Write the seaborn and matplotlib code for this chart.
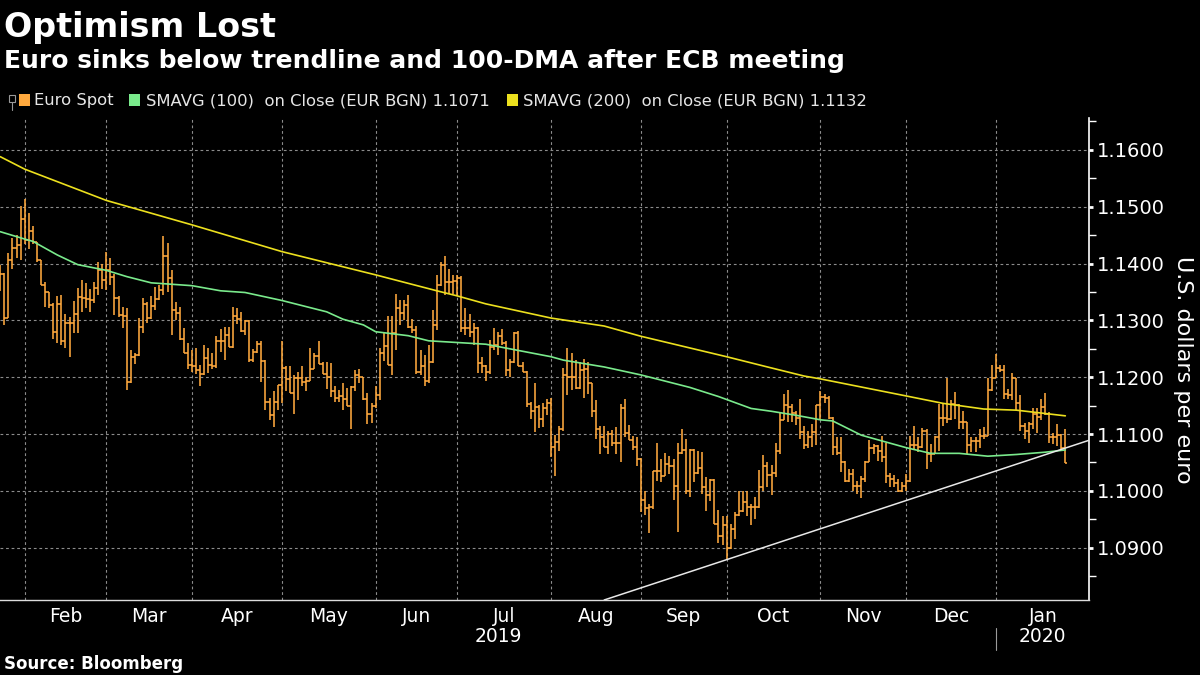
import numpy as np
import pandas as pd
import matplotlib
matplotlib.use("Agg")
import matplotlib.pyplot as plt
import matplotlib.transforms as mtrans
from matplotlib.patches import Rectangle
from matplotlib.lines import Line2D
import seaborn as sns

# ---- data (EUR/USD daily bars) ----
first_day = "2019-01-24"

opens = [
    1.1365, 1.1381, 1.1305, 1.1406, 1.1428, 1.1433, 1.1479, 1.1441, 1.1457, 1.1437,
    1.1406, 1.1362, 1.1349, 1.1327, 1.1280, 1.1328, 1.1263, 1.1295, 1.1296, 1.1312,
    1.1341, 1.1339, 1.1337, 1.1336, 1.1357, 1.1388, 1.1371, 1.1388, 1.1377, 1.1340,
    1.1309, 1.1307, 1.1192, 1.1236, 1.1239, 1.1288, 1.1329, 1.1304, 1.1325, 1.1337,
    1.1353, 1.1413, 1.1374, 1.1318, 1.1313, 1.1267, 1.1243, 1.1222, 1.1220, 1.1213,
    1.1206, 1.1233, 1.1222, 1.1219, 1.1264, 1.1264, 1.1274, 1.1253, 1.1308, 1.1302,
    1.1281, 1.1298, 1.1230, 1.1245, 1.1258, 1.1229, 1.1157, 1.1134, 1.1156, 1.1187,
    1.1216, 1.1196, 1.1172, 1.1199, 1.1198, 1.1192, 1.1194, 1.1215, 1.1237, 1.1223,
    1.1205, 1.1201, 1.1176, 1.1163, 1.1167, 1.1161, 1.1150, 1.1182, 1.1204, 1.1201,
    1.1162, 1.1135, 1.1150, 1.1169, 1.1242, 1.1254, 1.1222, 1.1277, 1.1321, 1.1313,
    1.1327, 1.1288, 1.1283, 1.1210, 1.1220, 1.1194, 1.1226, 1.1292, 1.1362, 1.1397,
    1.1368, 1.1368, 1.1370, 1.1375, 1.1286, 1.1286, 1.1280, 1.1287, 1.1225, 1.1220,
    1.1210, 1.1253, 1.1257, 1.1272, 1.1260, 1.1213, 1.1226, 1.1278, 1.1220, 1.1210,
    1.1153, 1.1141, 1.1147, 1.1127, 1.1145, 1.1155, 1.1077, 1.1086, 1.1109, 1.1204,
    1.1200, 1.1200, 1.1181, 1.1213, 1.1214, 1.1189, 1.1140, 1.1109, 1.1095, 1.1078,
    1.1100, 1.1084, 1.1084, 1.1146, 1.1101, 1.1089, 1.1077, 1.1056, 1.0984, 1.0970,
    1.0972, 1.1035, 1.1035, 1.1027, 1.1047, 1.1043, 1.1009, 1.1066, 1.1072, 1.1000,
    1.1072, 1.1031, 1.1041, 1.1007, 1.0993, 1.1019, 1.0942, 1.0921, 1.0940, 1.0899,
    1.0933, 1.0958, 1.0964, 1.0980, 1.0971, 1.0971, 1.0971, 1.1006, 1.1044, 1.1028,
    1.1031, 1.1071, 1.1125, 1.1151, 1.1147, 1.1137, 1.1129, 1.1104, 1.1080, 1.1094,
    1.1103, 1.1151, 1.1165, 1.1164, 1.1128, 1.1077, 1.1066, 1.1051, 1.1018, 1.1030,
    1.1009, 1.1009, 1.1021, 1.1051, 1.1075, 1.1079, 1.1071, 1.1059, 1.1027, 1.1021,
    1.1014, 1.0999, 1.1009, 1.1018, 1.1080, 1.1080, 1.1077, 1.1106, 1.1065, 1.1065,
    1.1094, 1.1129, 1.1129, 1.1126, 1.1153, 1.1151, 1.1121, 1.1121, 1.1080, 1.1088,
    1.1088, 1.1097, 1.1097, 1.1177, 1.1199, 1.1216, 1.1213, 1.1170, 1.1168, 1.1198,
    1.1154, 1.1115, 1.1106, 1.1118, 1.1136, 1.1130, 1.1148, 1.1136, 1.1094, 1.1094,
    1.1098, 1.1076,
]
highs = [
    1.1397, 1.1383, 1.1418, 1.1444, 1.1450, 1.1501, 1.1514, 1.1488, 1.1466, 1.1438,
    1.1406, 1.1368, 1.1350, 1.1330, 1.1342, 1.1344, 1.1312, 1.1306, 1.1334, 1.1357,
    1.1371, 1.1366, 1.1356, 1.1368, 1.1403, 1.1400, 1.1420, 1.1410, 1.1382, 1.1342,
    1.1324, 1.1321, 1.1248, 1.1242, 1.1305, 1.1339, 1.1333, 1.1343, 1.1358, 1.1362,
    1.1448, 1.1436, 1.1389, 1.1333, 1.1324, 1.1286, 1.1261, 1.1248, 1.1251, 1.1222,
    1.1256, 1.1251, 1.1242, 1.1273, 1.1284, 1.1289, 1.1288, 1.1324, 1.1321, 1.1315,
    1.1300, 1.1300, 1.1249, 1.1263, 1.1263, 1.1230, 1.1163, 1.1175, 1.1187, 1.1264,
    1.1219, 1.1220, 1.1204, 1.1210, 1.1219, 1.1201, 1.1251, 1.1242, 1.1263, 1.1227,
    1.1226, 1.1225, 1.1184, 1.1178, 1.1189, 1.1181, 1.1184, 1.1213, 1.1214, 1.1201,
    1.1172, 1.1155, 1.1184, 1.1251, 1.1277, 1.1308, 1.1308, 1.1347, 1.1336, 1.1336,
    1.1344, 1.1302, 1.1290, 1.1248, 1.1239, 1.1257, 1.1318, 1.1380, 1.1403, 1.1413,
    1.1391, 1.1380, 1.1380, 1.1378, 1.1321, 1.1312, 1.1295, 1.1289, 1.1236, 1.1222,
    1.1266, 1.1286, 1.1279, 1.1285, 1.1263, 1.1232, 1.1280, 1.1282, 1.1226, 1.1211,
    1.1157, 1.1189, 1.1151, 1.1154, 1.1161, 1.1163, 1.1098, 1.1115, 1.1216, 1.1251,
    1.1242, 1.1230, 1.1226, 1.1232, 1.1227, 1.1190, 1.1160, 1.1115, 1.1115, 1.1106,
    1.1107, 1.1112, 1.1152, 1.1162, 1.1116, 1.1097, 1.1095, 1.1057, 1.1000, 1.0977,
    1.1035, 1.1084, 1.1056, 1.1066, 1.1062, 1.1056, 1.1085, 1.1109, 1.1091, 1.1074,
    1.1074, 1.1071, 1.1068, 1.1025, 1.1021, 1.1021, 1.0966, 1.0956, 1.0956, 1.0942,
    1.0962, 1.0999, 1.0999, 1.1000, 1.0977, 1.0990, 1.1036, 1.1063, 1.1051, 1.1046,
    1.1085, 1.1138, 1.1170, 1.1178, 1.1153, 1.1141, 1.1162, 1.1115, 1.1106, 1.1118,
    1.1151, 1.1176, 1.1170, 1.1167, 1.1130, 1.1094, 1.1094, 1.1053, 1.1038, 1.1038,
    1.1018, 1.1027, 1.1053, 1.1090, 1.1082, 1.1080, 1.1096, 1.1085, 1.1031, 1.1028,
    1.1021, 1.1016, 1.1030, 1.1097, 1.1115, 1.1094, 1.1110, 1.1109, 1.1082, 1.1097,
    1.1153, 1.1153, 1.1198, 1.1159, 1.1174, 1.1153, 1.1141, 1.1122, 1.1094, 1.1094,
    1.1109, 1.1112, 1.1198, 1.1222, 1.1241, 1.1222, 1.1222, 1.1180, 1.1207, 1.1199,
    1.1168, 1.1120, 1.1122, 1.1146, 1.1145, 1.1162, 1.1173, 1.1139, 1.1102, 1.1118,
    1.1100, 1.1109,
]
lows = [
    1.1351, 1.1292, 1.1304, 1.1390, 1.1410, 1.1406, 1.1435, 1.1426, 1.1435, 1.1402,
    1.1362, 1.1324, 1.1322, 1.1267, 1.1260, 1.1257, 1.1251, 1.1235, 1.1277, 1.1277,
    1.1315, 1.1321, 1.1315, 1.1330, 1.1344, 1.1356, 1.1353, 1.1362, 1.1309, 1.1306,
    1.1286, 1.1178, 1.1190, 1.1223, 1.1238, 1.1277, 1.1295, 1.1302, 1.1318, 1.1336,
    1.1344, 1.1350, 1.1274, 1.1301, 1.1265, 1.1242, 1.1214, 1.1210, 1.1206, 1.1184,
    1.1204, 1.1207, 1.1214, 1.1216, 1.1245, 1.1230, 1.1253, 1.1252, 1.1294, 1.1280,
    1.1275, 1.1227, 1.1227, 1.1242, 1.1192, 1.1143, 1.1125, 1.1112, 1.1143, 1.1154,
    1.1175, 1.1172, 1.1135, 1.1160, 1.1185, 1.1175, 1.1193, 1.1214, 1.1223, 1.1205,
    1.1179, 1.1166, 1.1157, 1.1157, 1.1143, 1.1150, 1.1109, 1.1175, 1.1189, 1.1160,
    1.1118, 1.1120, 1.1145, 1.1160, 1.1228, 1.1222, 1.1204, 1.1248, 1.1292, 1.1301,
    1.1286, 1.1277, 1.1206, 1.1204, 1.1184, 1.1190, 1.1225, 1.1283, 1.1360, 1.1344,
    1.1347, 1.1347, 1.1342, 1.1280, 1.1274, 1.1271, 1.1257, 1.1208, 1.1207, 1.1194,
    1.1206, 1.1248, 1.1239, 1.1257, 1.1202, 1.1200, 1.1225, 1.1220, 1.1210, 1.1147,
    1.1127, 1.1104, 1.1111, 1.1112, 1.1133, 1.1059, 1.1027, 1.1071, 1.1106, 1.1168,
    1.1177, 1.1180, 1.1180, 1.1163, 1.1170, 1.1130, 1.1092, 1.1065, 1.1077, 1.1065,
    1.1079, 1.1064, 1.1050, 1.1095, 1.1089, 1.1072, 1.1044, 1.0962, 1.0958, 1.0925,
    1.0968, 1.1018, 1.1015, 1.1026, 1.1030, 1.0984, 1.0927, 1.1065, 1.0994, 1.0989,
    1.1015, 1.1030, 1.0994, 1.0965, 1.0983, 1.0942, 1.0909, 1.0905, 1.0880, 1.0898,
    1.0915, 1.0956, 1.0963, 1.0956, 1.0940, 1.0951, 1.0969, 1.1000, 1.1006, 1.0992,
    1.1024, 1.1065, 1.1124, 1.1121, 1.1121, 1.1116, 1.1091, 1.1074, 1.1075, 1.1077,
    1.1080, 1.1126, 1.1155, 1.1126, 1.1063, 1.1063, 1.1033, 1.1016, 1.1016, 1.1000,
    1.0994, 1.0987, 1.1015, 1.1050, 1.1065, 1.1053, 1.1051, 1.1014, 1.1006, 1.1006,
    1.0998, 1.0998, 1.1000, 1.1015, 1.1072, 1.1068, 1.1076, 1.1038, 1.1051, 1.1064,
    1.1071, 1.1115, 1.1119, 1.1125, 1.1126, 1.1109, 1.1109, 1.1065, 1.1068, 1.1068,
    1.1076, 1.1091, 1.1096, 1.1176, 1.1198, 1.1210, 1.1162, 1.1162, 1.1160, 1.1142,
    1.1106, 1.1092, 1.1085, 1.1109, 1.1102, 1.1124, 1.1133, 1.1085, 1.1082, 1.1079,
    1.1073, 1.1049,
]
closes = [
    1.1381, 1.1305, 1.1406, 1.1428, 1.1433, 1.1479, 1.1441, 1.1457, 1.1437, 1.1406,
    1.1362, 1.1349, 1.1327, 1.1280, 1.1328, 1.1263, 1.1295, 1.1296, 1.1312, 1.1341,
    1.1339, 1.1337, 1.1336, 1.1357, 1.1388, 1.1371, 1.1388, 1.1377, 1.1340, 1.1309,
    1.1307, 1.1192, 1.1236, 1.1239, 1.1288, 1.1329, 1.1304, 1.1325, 1.1337, 1.1353,
    1.1413, 1.1374, 1.1318, 1.1313, 1.1267, 1.1243, 1.1222, 1.1220, 1.1213, 1.1206,
    1.1233, 1.1222, 1.1219, 1.1264, 1.1264, 1.1274, 1.1253, 1.1308, 1.1302, 1.1281,
    1.1298, 1.1230, 1.1245, 1.1258, 1.1229, 1.1157, 1.1134, 1.1156, 1.1187, 1.1216,
    1.1196, 1.1172, 1.1199, 1.1198, 1.1192, 1.1194, 1.1215, 1.1237, 1.1223, 1.1205,
    1.1201, 1.1176, 1.1163, 1.1167, 1.1161, 1.1150, 1.1182, 1.1204, 1.1201, 1.1162,
    1.1135, 1.1150, 1.1169, 1.1242, 1.1254, 1.1222, 1.1277, 1.1321, 1.1313, 1.1327,
    1.1288, 1.1283, 1.1210, 1.1220, 1.1194, 1.1226, 1.1292, 1.1362, 1.1397, 1.1368,
    1.1368, 1.1370, 1.1375, 1.1286, 1.1286, 1.1280, 1.1287, 1.1225, 1.1220, 1.1210,
    1.1253, 1.1257, 1.1272, 1.1260, 1.1213, 1.1226, 1.1278, 1.1220, 1.1210, 1.1153,
    1.1141, 1.1147, 1.1127, 1.1145, 1.1155, 1.1077, 1.1086, 1.1109, 1.1204, 1.1200,
    1.1200, 1.1181, 1.1213, 1.1214, 1.1189, 1.1140, 1.1109, 1.1095, 1.1078, 1.1100,
    1.1084, 1.1084, 1.1146, 1.1101, 1.1089, 1.1077, 1.1056, 1.0984, 1.0970, 1.0972,
    1.1035, 1.1035, 1.1027, 1.1047, 1.1043, 1.1009, 1.1066, 1.1072, 1.1000, 1.1072,
    1.1031, 1.1041, 1.1007, 1.0993, 1.1019, 1.0942, 1.0921, 1.0940, 1.0899, 1.0933,
    1.0958, 1.0964, 1.0980, 1.0971, 1.0971, 1.0971, 1.1006, 1.1044, 1.1028, 1.1031,
    1.1071, 1.1125, 1.1151, 1.1147, 1.1137, 1.1129, 1.1104, 1.1080, 1.1094, 1.1103,
    1.1151, 1.1165, 1.1164, 1.1128, 1.1077, 1.1066, 1.1051, 1.1018, 1.1030, 1.1009,
    1.1009, 1.1021, 1.1051, 1.1075, 1.1079, 1.1071, 1.1059, 1.1027, 1.1021, 1.1014,
    1.0999, 1.1009, 1.1018, 1.1080, 1.1080, 1.1077, 1.1106, 1.1065, 1.1065, 1.1094,
    1.1129, 1.1129, 1.1126, 1.1153, 1.1151, 1.1121, 1.1121, 1.1080, 1.1088, 1.1088,
    1.1097, 1.1097, 1.1177, 1.1199, 1.1216, 1.1213, 1.1170, 1.1168, 1.1198, 1.1154,
    1.1115, 1.1106, 1.1118, 1.1136, 1.1130, 1.1148, 1.1136, 1.1094, 1.1094, 1.1098,
    1.1076, 1.1049,
]

# moving averages, read at sample points (bar number, value)
ma100_idx = [0, 6, 8, 14, 19, 26, 31, 37, 47, 54, 60, 69, 80, 84, 89, 92, 100, 105, 112,
             119, 135, 138, 148, 157, 169, 176, 184, 189, 195, 201, 204, 211, 222, 228,
             235, 242, 249, 256, 261]
ma100_val = [1.1456, 1.1443, 1.1439, 1.1415, 1.1398, 1.1388, 1.1377, 1.1366, 1.1361,
             1.1352, 1.1349, 1.1335, 1.1315, 1.1302, 1.1292, 1.1280, 1.1273, 1.1264,
             1.1261, 1.1258, 1.1236, 1.1230, 1.1218, 1.1204, 1.1182, 1.1166, 1.1145,
             1.1140, 1.1133, 1.1125, 1.1123, 1.1098, 1.1076, 1.1066, 1.1066, 1.1061,
             1.1064, 1.1068, 1.1072]
ma200_idx = [0, 6, 26, 47, 69, 92, 107, 112, 119, 135, 148, 157, 178, 188, 197, 201,
             222, 231, 241, 249, 261]
ma200_val = [1.1588, 1.1566, 1.1511, 1.1468, 1.1421, 1.1380, 1.1352, 1.1343, 1.1329,
             1.1304, 1.1290, 1.1272, 1.1236, 1.1218, 1.1202, 1.1197, 1.1167, 1.1154,
             1.1144, 1.1142, 1.1132]

trend_idx = [148, 266.8]
trend_val = [1.0808, 1.1089]

y_ticks = [1.09, 1.10, 1.11, 1.12, 1.13, 1.14, 1.15, 1.16]

title = "Optimism Lost"
subtitle = "Euro sinks below trendline and 100-DMA after ECB meeting"
source = "Source: Bloomberg"

ORANGE = "#ffa93e"
GREEN = "#7aea8c"
YELLOW = "#ece01e"
GRID = "#8c8c8c"

# ---- setup ----
sns.set_theme(style="dark", rc={"axes.facecolor": "black", "figure.facecolor": "black"})
plt.rcParams["font.family"] = ["DejaVu Sans"]

W, H = 1200, 675
fig = plt.figure(figsize=(12, 6.75), dpi=100)
fig.patch.set_facecolor("black")


def fx(px):
    return px / W


def fy(py):
    return 1 - py / H


ax = fig.add_axes([0, fy(600), fx(1089), fy(118) - fy(600)])
ax.set_facecolor("black")

n = len(closes)
dates = pd.bdate_range(first_day, periods=n)
x = np.arange(n)

# month boundaries from the dates
month_pos = [i for i in range(1, n) if dates[i].month != dates[i - 1].month]
next_month = month_pos[-1] + len(pd.bdate_range(dates[month_pos[-1]],
                                                 dates[month_pos[-1]] + pd.offsets.MonthEnd(0)))
bounds = month_pos + [next_month]
label_pos = [(bounds[k] + bounds[k + 1]) / 2 for k in range(len(month_pos))]
label_txt = [dates[i].strftime("%b") for i in month_pos]

# ---- OHLC bars ----
ax.vlines(x, lows, highs, color=ORANGE, lw=1.15, zorder=3)
ax.hlines(opens, x - 0.5, x, color=ORANGE, lw=1.15, zorder=3)
ax.hlines(closes, x, x + 0.5, color=ORANGE, lw=1.15, zorder=3)

# ---- moving averages and trendline ----
sns.lineplot(x=ma200_idx, y=ma200_val, color=YELLOW, lw=1.2, ax=ax, zorder=4)
sns.lineplot(x=ma100_idx, y=ma100_val, color=GREEN, lw=1.2, ax=ax, zorder=4)
sns.lineplot(x=trend_idx, y=trend_val, color="#e8e8e8", lw=1.1, ax=ax, zorder=5)

ax.set_xlim(-0.05, 266.8)
ax.set_ylim(1.0808, 1.1656)

# ---- axes styling ----
ax.yaxis.tick_right()
ax.set_yticks(y_ticks)
ax.set_yticklabels([f"{v:.4f}" for v in y_ticks])
ax.set_yticks([v + 0.005 for v in [1.08] + y_ticks], minor=True)
ax.tick_params(axis="y", which="major", colors="white", labelcolor="white",
               labelsize=14, length=3, width=2, direction="out", pad=3, right=True, left=False)
ax.tick_params(axis="y", which="minor", colors="white", length=5, width=1,
               direction="out", right=True, left=False)

ax.set_xticks(month_pos)
ax.set_xticklabels([])
ax.set_xticks(label_pos, minor=True)
ax.set_xticklabels(label_txt, minor=True)
ax.tick_params(axis="x", which="major", length=0, bottom=True)
ax.tick_params(axis="x", which="minor", length=0, labelsize=13.5,
               labelcolor="white", pad=5)

ax.grid(True, which="major", color=GRID, lw=0.8, linestyle=(0, (2.5, 2.5)))
ax.grid(False, which="minor")

for side in ["left", "top"]:
    ax.spines[side].set_visible(False)
ax.spines["right"].set_color("white")
ax.spines["right"].set_linewidth(1.2)
ax.spines["bottom"].set_color("#dddddd")
ax.spines["bottom"].set_linewidth(1.0)

ax.set_xlabel("")
ax.set_ylabel("")
fig.text(fx(1183), fy(370), "U.S. dollars per euro", rotation=270, color="white",
         fontsize=16, ha="center", va="center")

# year labels
yr = mtrans.blended_transform_factory(ax.transData, fig.transFigure)
year_start = month_pos[-1]
ax.text(year_start / 2, fy(637), str(dates[0].year), transform=yr, color="white",
        fontsize=13.5, ha="center", va="center")
ax.text((year_start + 266.8) / 2, fy(637), str(dates[-1].year), transform=yr,
        color="white", fontsize=13.5, ha="center", va="center")
fig.add_artist(Line2D([year_start, year_start], [fy(628), fy(650)], transform=yr,
                      color="#9a9a9a", lw=0.8))

# ---- titles ----
fig.text(fx(4), fy(37), title, color="white", fontsize=24, fontweight="bold",
         ha="left", va="baseline")
fig.text(fx(4), fy(68), subtitle, color="white", fontsize=18, fontweight="bold",
         ha="left", va="baseline")
fig.text(fx(4), fy(664), source, color="white", fontsize=12, fontweight="bold",
         ha="left", va="center")

# ---- legend row ----
ly = fy(101)
fig.add_artist(Rectangle((fx(9), fy(102)), fx(6), fy(95) - fy(102), transform=fig.transFigure,
                         fill=False, edgecolor="#999999", lw=0.8))
fig.add_artist(Line2D([fx(12), fx(12)], [fy(102), fy(110)], transform=fig.transFigure,
                      color="#999999", lw=0.8))
legend_items = [
    (19, ORANGE, 34, "Euro Spot"),
    (129, GREEN, 146, "SMAVG (100)  on Close (EUR BGN) 1.1071"),
    (507, YELLOW, 523, "SMAVG (200)  on Close (EUR BGN) 1.1132"),
]
for sq_x, col, tx, label in legend_items:
    fig.add_artist(Rectangle((fx(sq_x), fy(106)), fx(11), fy(94) - fy(106),
                             transform=fig.transFigure, color=col, lw=0))
    fig.text(fx(tx), ly, label, color="#e6e6e6", fontsize=11.8, ha="left", va="center")

fig.savefig("out.png", dpi=100, facecolor="black")
